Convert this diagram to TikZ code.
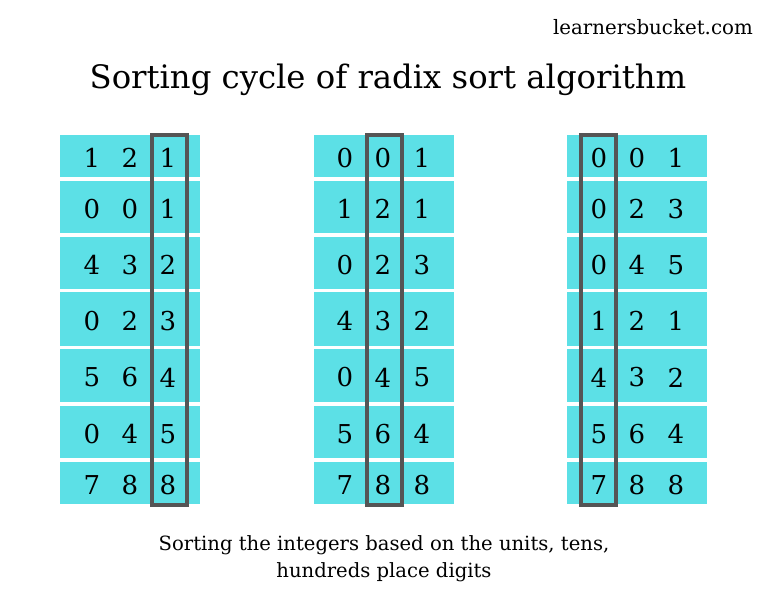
\documentclass[tikz,border=0pt]{standalone}
\usepackage{fontspec}
\setmainfont{DejaVu Serif}
\definecolor{cellcyan}{RGB}{92,224,230}
\definecolor{boxgray}{RGB}{85,85,85}
\begin{document}
\begin{tikzpicture}[x=1pt,y=-1pt,
  cell/.style={fill=cellcyan, draw=none, inner sep=0pt, outer sep=0pt, minimum width=140pt, anchor=north west},
  digit/.style={font=\fontsize{26}{26}\selectfont, inner sep=0pt, anchor=center},
  markbox/.style={draw=boxgray, line width=4pt, fill=none, inner sep=0pt, outer sep=0pt, minimum width=35pt, minimum height=370pt, anchor=north},
  title/.style={font=\fontsize{32.3}{32.3}\selectfont, inner sep=0pt},
  caption/.style={font=\fontsize{19.6}{19.6}\selectfont, inner sep=0pt},
  site/.style={font=\fontsize{19.8}{19.8}\selectfont, inner sep=0pt, anchor=east}]
\fill[white] (0,0) rectangle (768,600);
\useasboundingbox (0,0) rectangle (768,600);

\node[site] (site) at (753,27) {learnersbucket.com};
\node[title] (title) at (388,80) {Sorting cycle of radix sort algorithm};

% column 1
\foreach \t/\b/\p/\q/\r [count=\i] in {135/177/1/2/1,181/233/0/0/1,237/289/4/3/2,292/346/0/2/3,349/402/5/6/4,406/458/0/4/5,462/504/7/8/8}{
  \node[cell, minimum height={\b-\t}] (a\i) at (60,\t) {};
  \node[digit] (a\i p) at (92,{(\t+\b)/2+2}) {\p};
  \node[digit] (a\i q) at (130,{(\t+\b)/2+2}) {\q};
  \node[digit] (a\i r) at (168,{(\t+\b)/2+2}) {\r};
}
% column 2
\foreach \t/\b/\p/\q/\r [count=\i] in {135/177/0/0/1,181/233/1/2/1,237/289/0/2/3,292/346/4/3/2,349/402/0/4/5,406/458/5/6/4,462/504/7/8/8}{
  \node[cell, minimum height={\b-\t}] (b\i) at (314,\t) {};
  \node[digit] (b\i p) at (345,{(\t+\b)/2+2}) {\p};
  \node[digit] (b\i q) at (383,{(\t+\b)/2+2}) {\q};
  \node[digit] (b\i r) at (422,{(\t+\b)/2+2}) {\r};
}
% column 3
\foreach \t/\b/\p/\q/\r [count=\i] in {135/177/0/0/1,181/233/0/2/3,237/289/0/4/5,292/346/1/2/1,349/402/4/3/2,406/458/5/6/4,462/504/7/8/8}{
  \node[cell, minimum height={\b-\t}] (c\i) at (567,\t) {};
  \node[digit] (c\i p) at (599,{(\t+\b)/2+2}) {\p};
  \node[digit] (c\i q) at (637,{(\t+\b)/2+2}) {\q};
  \node[digit] (c\i r) at (676,{(\t+\b)/2+2}) {\r};
}

\node[markbox] (box1) at (169.5,135) {};
\node[markbox] (box2) at (384.5,135) {};
\node[markbox] (box3) at (598.5,135) {};

\node[caption] (cap1) at (384,545) {Sorting the integers based on the units, tens,};
\node[caption] (cap2) at (384,572) {hundreds place digits};
\end{tikzpicture}
\end{document}
